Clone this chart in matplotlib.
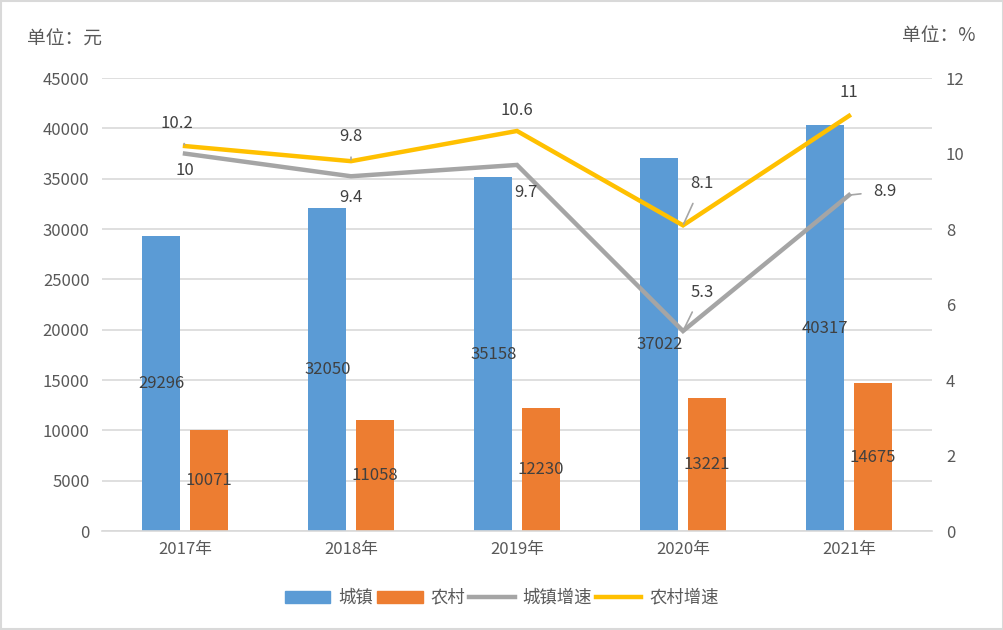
import matplotlib.pyplot as plt
from matplotlib.patches import Patch, Rectangle
from matplotlib.lines import Line2D
import numpy as np

plt.rcParams['font.family'] = ['Noto Sans CJK SC', 'DejaVu Sans']

years = ["2017年", "2018年", "2019年", "2020年", "2021年"]
urban = [29296, 32050, 35158, 37022, 40317]
rural = [10071, 11058, 12230, 13221, 14675]
urban_growth = [10, 9.4, 9.7, 5.3, 8.9]
rural_growth = [10.2, 9.8, 10.6, 8.1, 11]

c_blue = "#5B9BD5"
c_orange = "#ED7D31"
c_gray = "#A5A5A5"
c_yellow = "#FFC000"
c_text = "#595959"
c_lab = "#404040"

fig = plt.figure(figsize=(10.04, 6.3), dpi=100)
ax = fig.add_axes([0.1016, 0.157, 0.8267, 0.719])
ax2 = ax.twinx()

x = np.arange(len(years))
w = 0.23
b1 = ax.bar(x - 0.143, urban, w, color=c_blue, zorder=2)
b2 = ax.bar(x + 0.143, rural, w, color=c_orange, zorder=2)
ax.bar_label(b1, labels=[str(v) for v in urban], label_type='center', fontsize=12, color=c_lab)
ax.bar_label(b2, labels=[str(v) for v in rural], label_type='center', fontsize=12, color=c_lab)

ax.set_ylim(0, 45000)
ax.set_yticks(range(0, 45001, 5000))
ax.set_xlim(-0.5, 4.5)
ax.set_xticks(x)
ax.set_xticklabels(years)
ax.grid(axis='y', color="#D9D9D9", lw=1.2, zorder=0)
ax.set_axisbelow(True)

ax2.plot(x, urban_growth, color=c_gray, lw=3.2, solid_joinstyle='miter', zorder=3)
ax2.plot(x, rural_growth, color=c_yellow, lw=3.2, solid_joinstyle='miter', zorder=4)
ax2.set_ylim(0, 12)
ax2.set_yticks(range(0, 13, 2))

for a in (ax, ax2):
    for s in a.spines.values():
        s.set_visible(False)
    a.tick_params(length=0, labelsize=12, colors=c_text)
ax.spines['bottom'].set_visible(True)
ax.spines['bottom'].set_color("#D9D9D9")
ax.spines['bottom'].set_linewidth(1.2)
ax.tick_params(axis='y', pad=9)
ax.tick_params(axis='x', pad=7)
ax2.tick_params(axis='y', pad=10)

# growth labels: (dx, dy) in pixels, leader line or not
urban_off = [(0, -17, False), (0, -21, False), (9, -28, False), (19, 39, True), (36, 4, True)]
rural_off = [(-8, 23, True), (0, 25, True), (0, 20, False), (19, 42, True), (0, 23, False)]
leader = dict(arrowstyle='-', color="#A6A6A6", lw=1.2, shrinkA=7, shrinkB=1)
for vals, offs in ((urban_growth, urban_off), (rural_growth, rural_off)):
    for i, (v, (dx, dy, ld)) in enumerate(zip(vals, offs)):
        ax2.annotate(f"{v:g}", xy=(i, v), xytext=(dx * 0.72, dy * 0.72),
                     textcoords='offset points', ha='center', va='center',
                     fontsize=12, color=c_lab, zorder=6,
                     arrowprops=leader if ld else None)

fig.text(0.027, 0.937, "单位：元", fontsize=13.5, color=c_text, va='center')
fig.text(0.972, 0.944, "单位：%", fontsize=13.5, color=c_text, va='center', ha='right')

handles = [Patch(color=c_blue), Patch(color=c_orange),
           Line2D([], [], color=c_gray, lw=3.2), Line2D([], [], color=c_yellow, lw=3.2)]
fig.legend(handles, ["城镇", "农村", "城镇增速", "农村增速"], loc='center',
           bbox_to_anchor=(0.500, 0.051), ncol=4, frameon=False, fontsize=12.5,
           labelcolor=c_text, handlelength=2.6, handletextpad=0.45, columnspacing=0.25)

fig.patches.append(Rectangle((0.001, 0.001), 0.998, 0.998, transform=fig.transFigure,
                             fill=False, edgecolor="#D9D9D9", lw=1.5))

fig.savefig("out.png", dpi=100)
